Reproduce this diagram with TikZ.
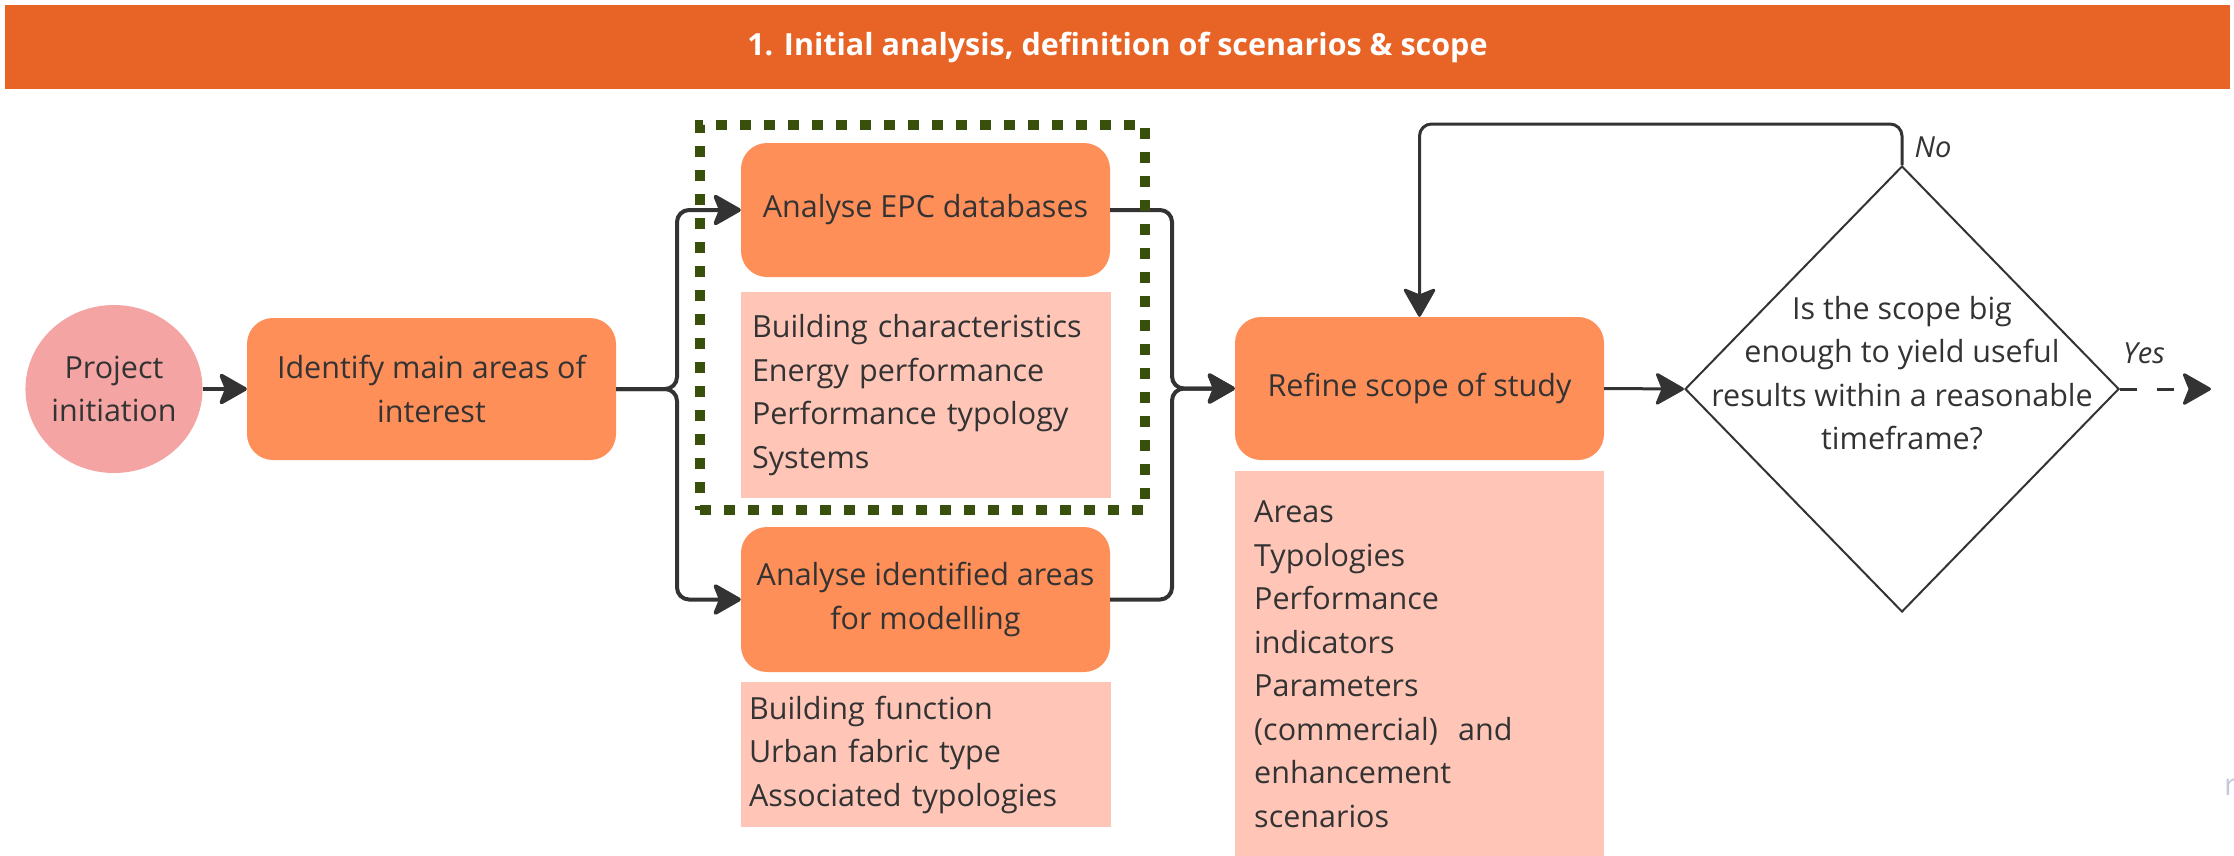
\documentclass[tikz,border=0pt]{standalone}
\usepackage{fontspec}
\setmainfont{Open Sans}
\usetikzlibrary{arrows.meta,shapes.geometric}
\definecolor{hdr}{RGB}{232,100,38}
\definecolor{stepfill}{RGB}{255,143,89}
\definecolor{notefill}{RGB}{255,198,184}
\definecolor{startfill}{RGB}{245,164,164}
\definecolor{ink}{RGB}{51,51,51}
\definecolor{olive}{RGB}{56,80,12}
\definecolor{logo}{RGB}{200,200,218}

\begin{document}
\begin{tikzpicture}[x=1pt,y=-1pt,
  font=\fontsize{30.5}{43.5}\selectfont, text=ink,
  stepbox/.style={fill=stepfill, rounded corners=26pt, align=center, inner sep=0pt,
    minimum width=369pt},
  notebox/.style={fill=notefill, align=left, inner ysep=0pt, minimum width=370pt},
  conn/.style={draw=ink, line width=4pt},
  connthin/.style={draw=ink, line width=3pt},
  softturn/.style={rounded corners=12pt},
  arr/.style={-{Stealth[length=31pt,width=35pt,inset=7pt,round,fill=ink]}},
]
\useasboundingbox (0,0) rectangle (2234,855);

% header band
\node[fill=hdr, minimum width=2225pt, minimum height=84pt, inner sep=0pt,
  text=white, font=\fontsize{30.5}{36}\selectfont\bfseries] (title) at (1117.5,47)
  {1. Initial analysis, definition of scenarios \& scope};

% process steps
\node[ellipse, fill=startfill, minimum width=176pt, minimum height=168pt, inner sep=0pt,
  align=center] (start) at (114,389) {Project\\initiation};
\node[stepbox, minimum height=142pt] (ident) at (431.5,389) {Identify main areas of\\interest};
\node[stepbox, minimum height=134pt] (epc) at (925.5,210) {Analyse EPC databases};
\node[stepbox, minimum height=145pt] (model) at (925.5,599.5) {Analyse identified areas\\for modelling};
\node[stepbox, minimum height=143pt] (refine) at (1419.5,388.5) {Refine scope of study};

% notes under the steps
\node[notebox, minimum height=206pt, inner xsep=11pt, text width=348pt] (epcnote) at (926,395)
  {Building characteristics\\Energy performance\\Performance typology\\Systems};
\node[notebox, minimum height=145pt, inner xsep=8pt, text width=354pt] (modelnote) at (926,754.5)
  {Building function\\Urban fabric type\\Associated typologies};
\node[notebox, anchor=north west, minimum width=369pt, minimum height=386pt, inner xsep=19pt,
  text width=331pt] (refinenote) at (1235,471)
  {Areas\\Typologies\\Performance\\indicators\\Parameters\\(commercial)\ \ and\\enhancement\\scenarios};

% decision
\node[diamond, draw=ink, line width=2pt, minimum width=434pt, minimum height=446pt,
  inner sep=0pt] (dec) at (1902,389) {};
\node[align=center, inner sep=0pt] (question) at (1902,373)
  {Is the scope big\\enough to yield useful\\results within a reasonable\\timeframe?};
\node[font=\fontsize{29}{35}\selectfont\itshape, inner sep=0pt] (no) at (1933,147) {No};
\node[font=\fontsize{29}{35}\selectfont\itshape, inner sep=0pt] (yes) at (2144,353) {Yes};

% connectors (corners rounded only on the path, not on the tips)
\coordinate (split) at (677,389);
\coordinate (merge) at (1172,388.5);
\coordinate (loop) at (1700,124);
\coordinate (yesend) at (2211,389);

\draw[conn, arr] (start) -- (ident);
\draw[conn, arr] (ident.east) {[softturn] -- (split) |- (epc.west)};
\draw[conn, arr] (ident.east) {[softturn] -- (split) |- (model.west)};
\draw[conn, arr] (epc.east) {[softturn] -| (merge) -- (refine.west)};
\draw[conn, arr] (model.east) {[softturn] -| (merge) -- (refine.west)};
\draw[connthin, arr] (refine.east) -- (dec.west);
\draw[connthin, arr] (dec.north) {[softturn] |- (loop) -| (refine.north)};
\draw[connthin, dash pattern=on 17pt off 20pt, arr] (dec.east) -- (yesend);

% dotted frame around the EPC analysis
\node[draw=olive, line width=10pt, dash pattern=on 11pt off 13pt, minimum width=445pt,
  minimum height=385pt, inner sep=0pt] (frame) at (922.5,317.5) {};

% edge mark
\node[text=logo, anchor=west, inner sep=0pt] (mark) at (2224,787) {r};
\end{tikzpicture}
\end{document}
